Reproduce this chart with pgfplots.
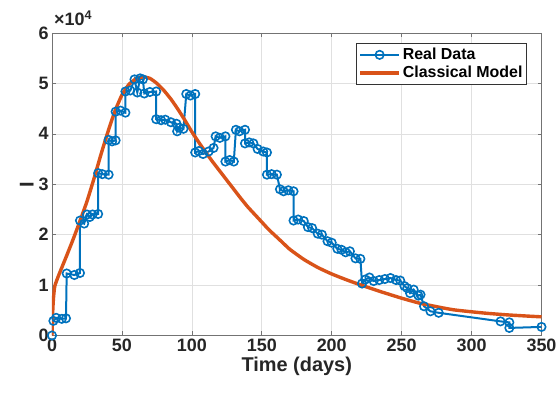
\documentclass[border=0pt]{standalone}
\usepackage{pgfplots}
\pgfplotsset{compat=1.18}
\usepackage{fontspec}
\setmainfont{Liberation Sans}
\definecolor{mblue}{rgb}{0,0.447,0.741}
\definecolor{morange}{rgb}{0.850,0.325,0.098}
\definecolor{axgray}{rgb}{0.45,0.45,0.45}
\definecolor{tickc}{rgb}{0.15,0.15,0.15}
\begin{document}
\begin{tikzpicture}
\begin{axis}[
  scale only axis,
  width=489.5bp, height=302.5bp,
  xmin=0, xmax=350, ymin=0, ymax=60000,
  xtick={0,50,...,350},
  ytick={0,10000,...,60000},
  yticklabels={0,1,2,3,4,5,6},
  scaled y ticks=false,
  /pgf/number format/assume math mode=true,
  ticklabel style={font=\fontsize{18}{20}\selectfont\bfseries, text=tickc},
  label style={font=\fontsize{20}{22}\selectfont\bfseries, text=tickc},
  xlabel={Time (days)},
  ylabel={I},
  xlabel style={yshift=2bp},
  ylabel style={yshift=-2bp},
  grid=major,
  major grid style={black!12, line width=0.6bp},
  axis line style={axgray, line width=0.8bp},
  tick style={axgray, line width=0.6bp},
  major tick length=4bp,
  legend style={at={(axis description cs:0.970,0.967)}, anchor=north east,
    font=\fontsize{16}{19}\selectfont\bfseries, draw=black!80, line width=0.7bp,
    inner xsep=2bp, inner ysep=3bp, row sep=1bp,
    /tikz/every even column/.append style={column sep=2bp}},
  legend cell align=left,
  legend image code/.code={\draw[mark repeat=2,mark phase=2] plot coordinates {(0cm,0cm) (0.69cm,0cm) (1.38cm,0cm)};},
]
\addplot[color=mblue, line width=2bp, mark=o, mark size=4.2bp, mark options={line width=1.6bp}] coordinates {
(0,0) (1,2900) (3,3500) (7,3300) (10,3400) (10.5,12300) (16,12000) (20,12400)
(20,22800) (23,22200) (25,24000) (27,23500) (29,24000) (33,24100)
(33,32200) (36,32000) (40.5,31900) (40.5,38800) (43,38500) (45.5,38700)
(45.5,44400) (49,44600) (52.5,44200) (52.5,48400) (56,48600) (59,50800)
(61,48200) (63,51000) (65,50800) (66,48000) (70,48300) (74.5,48400)
(74.5,42900) (78,42700) (81,42800) (85,42300) (89,42000) (89.5,40500)
(91,41200) (94,41000) (96,47900) (99,47600) (102.4,47900) (102.4,36300)
(105,36600) (108,36000) (112,36500) (115.5,37200) (117,39500) (120,39200)
(124,39500) (124,34500) (127,34800) (130,34500) (131.5,40800) (134,40500)
(138,40800) (138,38100) (141,38300) (144,38100) (147,37000) (151,36500)
(153.7,36300) (153.7,31900) (157,32000) (160.8,31900) (163,29000) (165.6,28600)
(169,28800) (172.7,28600) (172.7,22800) (176,23000) (180,22700) (183,21500)
(186,21300) (190,20200) (193,20000) (197,18700) (200,18400) (204,17200)
(207,17000) (210,16500) (213,16700) (217,15300) (220.5,15200) (221.7,10300)
(224,11100) (227,11500) (230,10800) (234,11000) (238,11200) (242,11400)
(246,11000) (249,10900) (252,9800) (254,9400) (256,8400) (258.6,9100)
(262,7900) (263.5,8100) (266,5800) (270.6,4800) (276.5,4500)
(320.7,2800) (327,2600) (327,1500) (350,1700)
};
\addlegendentry{Real Data}
\addplot[color=morange, line width=3.4bp, smooth, tension=0.3] coordinates {
(0,0) (0.4,4000) (1,7200) (2,9800) (5,12100) (10,15500) (15,19000) (20,22700)
(25,26600) (30,31100) (35,35900) (40,40400) (45,44500) (50,47700) (55,49800)
(60,50900) (65,51300) (70,51000) (75,50000) (80,48600) (85,46900) (90,44900)
(95,42700) (100,40400) (105,38300) (110,36300) (115,34400) (120,32600)
(125,30800) (130,29000) (135,27200) (140,25500) (145,24000) (150,22500)
(155,21000) (160,19700) (165,18400) (170,17100) (180,15100) (190,13500)
(200,12200) (211,11000) (220,10100) (235,8700) (250,7400) (263,6400)
(277,5600) (287,5100) (300,4700) (311,4400) (325,4100) (340,3850) (350,3700)
};
\addlegendentry{Classical Model}
\end{axis}
\node[anchor=base west, font=\fontsize{18}{20}\selectfont\bfseries, text=tickc, inner sep=0pt]
  at ([xshift=2bp,yshift=7bp]current axis.north west) {×10\textsuperscript{4}};
\pgfresetboundingbox
\path ([shift={(-52bp,-62.5bp)}]current axis.south west) rectangle ([shift={(16.5bp,33bp)}]current axis.north east);
\end{tikzpicture}
\end{document}
